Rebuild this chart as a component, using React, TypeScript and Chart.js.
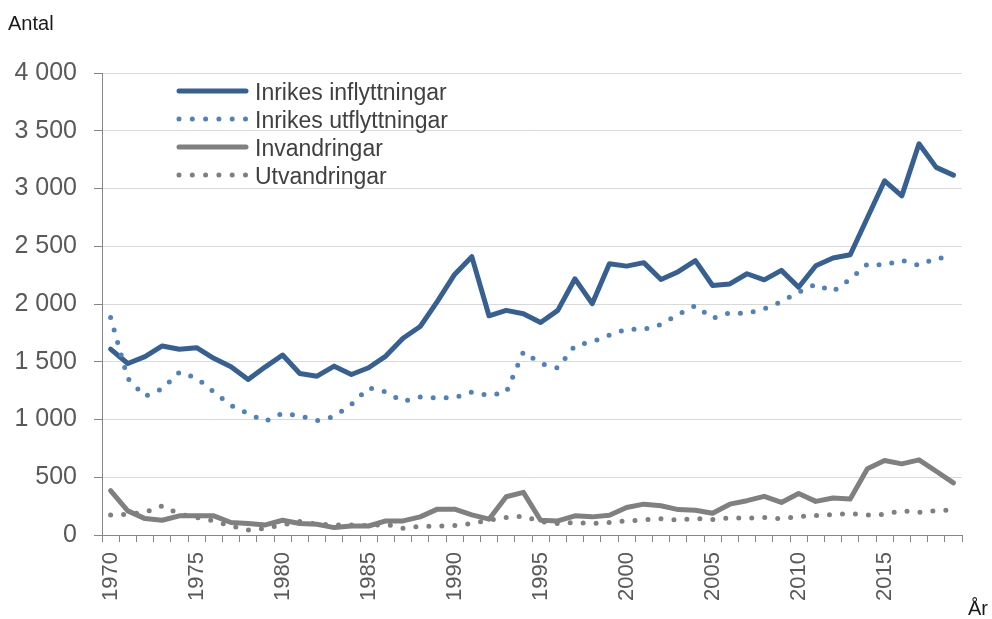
import React, { useEffect, useRef } from "react";
import { Chart, registerables } from "chart.js";

Chart.register(...registerables);

const years = [
  "1970", "1971", "1972", "1973", "1974", "1975", "1976", "1977", "1978", "1979",
  "1980", "1981", "1982", "1983", "1984", "1985", "1986", "1987", "1988", "1989",
  "1990", "1991", "1992", "1993", "1994", "1995", "1996", "1997", "1998", "1999",
  "2000", "2001", "2002", "2003", "2004", "2005", "2006", "2007", "2008", "2009",
  "2010", "2011", "2012", "2013", "2014", "2015", "2016", "2017", "2018", "2019",
];

const inrikesInflyttningar = [
  1610, 1485, 1544, 1637, 1608, 1622, 1530, 1456, 1346, 1456,
  1558, 1398, 1375, 1462, 1390, 1448, 1549, 1703, 1805, 2023,
  2256, 2410, 1898, 1945, 1916, 1840, 1945, 2218, 2003, 2349,
  2328, 2358, 2212, 2280, 2375, 2160, 2174, 2262, 2209, 2291,
  2145, 2331, 2398, 2427, 2747, 3067, 2936, 3387, 3183, 3116,
];

const inrikesUtflyttningar = [
  1884, 1355, 1200, 1265, 1410, 1358, 1238, 1122, 1050, 985,
  1055, 1032, 991, 1026, 1131, 1275, 1238, 1157, 1195, 1186,
  1189, 1238, 1209, 1235, 1585, 1485, 1445, 1640, 1672, 1730,
  1782, 1779, 1823, 1910, 1985, 1875, 1924, 1919, 1959, 2020,
  2102, 2171, 2108, 2215, 2346, 2337, 2378, 2334, 2398, 2400,
];

const invandringar = [
  384, 209, 142, 128, 166, 166, 166, 108, 99, 87,
  128, 99, 93, 64, 78, 78, 122, 122, 157, 224,
  224, 174, 137, 331, 369, 128, 122, 166, 157, 171,
  238, 267, 253, 220, 215, 189, 267, 297, 334, 282,
  360, 291, 320, 311, 573, 645, 616, 651, 552, 451,
];

const utvandringar = [
  174, 180, 195, 253, 180, 151, 122, 78, 44, 58,
  87, 116, 93, 87, 87, 81, 93, 58, 76, 76,
  81, 99, 128, 151, 163, 116, 99, 108, 99, 108,
  122, 131, 140, 130, 142, 134, 148, 145, 151, 140,
  160, 169, 177, 186, 172, 180, 209, 195, 212, 215,
];

const seriesNames = [
  "Inrikes inflyttningar",
  "Inrikes utflyttningar",
  "Invandringar",
  "Utvandringar",
];

const yTicks = [0, 500, 1000, 1500, 2000, 2500, 3000, 3500, 4000];

const FONT = "'Liberation Sans', Arial, sans-serif";
const DARK_BLUE = "#376092";
const LIGHT_BLUE = "#4F81BD";
const GRAY = "#808080";
const GRAY_DOT = "#7F7F7F";

const fmt = (v: number) => {
  const s = String(Math.round(v));
  return s.replace(/\B(?=(\d{3})+(?!\d))/g, " ");
};

const legendItems = [
  { label: seriesNames[0], color: DARK_BLUE, dotted: false },
  { label: seriesNames[1], color: LIGHT_BLUE, dotted: true },
  { label: seriesNames[2], color: GRAY, dotted: false },
  { label: seriesNames[3], color: GRAY_DOT, dotted: true },
];

const extrasPlugin = {
  id: "extras",
  afterDraw(chart: any) {
    const ctx = chart.ctx as CanvasRenderingContext2D;
    ctx.save();
    // axis titles
    ctx.fillStyle = "#1a1a1a";
    ctx.font = `20px ${FONT}`;
    ctx.textBaseline = "alphabetic";
    ctx.textAlign = "left";
    ctx.fillText("Antal", 8, 30);
    ctx.fillText("År", 968, 615);

    // legend
    const rows = [91, 119, 147, 175];
    legendItems.forEach((it, i) => {
      const y = rows[i];
      ctx.strokeStyle = it.color;
      ctx.lineCap = "round";
      ctx.lineWidth = 5;
      if (it.dotted) {
        ctx.setLineDash([0, 13.3]);
        ctx.beginPath();
        ctx.moveTo(179, y);
        ctx.lineTo(248, y);
        ctx.stroke();
      } else {
        ctx.setLineDash([]);
        ctx.beginPath();
        ctx.moveTo(179, y);
        ctx.lineTo(246, y);
        ctx.stroke();
      }
      ctx.setLineDash([]);
      ctx.fillStyle = "#404040";
      ctx.font = `23px ${FONT}`;
      ctx.textAlign = "left";
      ctx.textBaseline = "alphabetic";
      ctx.fillText(it.label, 255, y + 8.5);
    });
    ctx.restore();
  },
};

export default function App() {
  const ref = useRef<HTMLCanvasElement>(null);

  useEffect(() => {
    if (!ref.current) return;
    Chart.defaults.font.family = FONT;
    const common = {
      borderWidth: 5,
      pointRadius: 0,
      tension: 0,
      borderCapStyle: "round",
      borderJoinStyle: "round",
      fill: false,
    };
    const chart = new Chart(ref.current, {
      type: "line",
      data: {
        labels: years,
        datasets: [
          { ...common, label: seriesNames[0], data: inrikesInflyttningar, borderColor: DARK_BLUE, order: 4 },
          { ...common, label: seriesNames[1], data: inrikesUtflyttningar, borderColor: LIGHT_BLUE, borderDash: [0, 13], order: 3 },
          { ...common, label: seriesNames[2], data: invandringar, borderColor: GRAY, order: 2 },
          { ...common, label: seriesNames[3], data: utvandringar, borderColor: GRAY_DOT, borderDash: [0, 13], order: 1 },
        ],
      },
      options: {
        responsive: false,
        animation: false,
        maintainAspectRatio: false,
        layout: { padding: { left: 0, top: 73, right: 30, bottom: 0 } },
        plugins: {
          legend: { display: false },
          tooltip: { enabled: false },
        },
        scales: {
          x: {
            type: "category",
            offset: true,
            afterFit: (s: any) => {
              s.height = 84;
            },
            grid: {
              offset: true,
              drawOnChartArea: false,
              drawTicks: true,
              tickLength: 7,
              tickColor: "#868686",
              color: "#868686",
            },
            border: { color: "#868686", width: 1 },
            ticks: {
              autoSkip: false,
              maxRotation: 90,
              minRotation: 90,
              padding: 10,
              color: "#595959",
              font: { size: 22, family: FONT },
              callback: (_v: any, idx: number) => {
                const y = years[idx];
                return Number(y) % 5 === 0 ? y : "";
              },
            },
          },
          y: {
            min: 0,
            max: 4000,
            afterFit: (s: any) => {
              s.width = 102;
            },
            afterBuildTicks: (s: any) => {
              s.ticks = yTicks.map((v) => ({ value: v }));
            },
            grid: {
              color: "#d9d9d9",
              lineWidth: 1,
              drawTicks: true,
              tickLength: 8,
              tickColor: "#868686",
            },
            border: { color: "#868686", width: 1 },
            ticks: {
              padding: 17,
              color: "#595959",
              font: { size: 25, family: FONT },
              callback: (v: any) => fmt(Number(v)),
            },
          },
        },
      },
      plugins: [extrasPlugin],
    } as any);
    return () => chart.destroy();
  }, []);

  return (
    <div
      style={{
        position: "fixed",
        left: 0,
        top: 0,
        width: 992,
        height: 619,
        background: "#ffffff",
      }}
    >
      <canvas ref={ref} width={992} height={619} style={{ width: 992, height: 619, display: "block" }} />
    </div>
  );
}
